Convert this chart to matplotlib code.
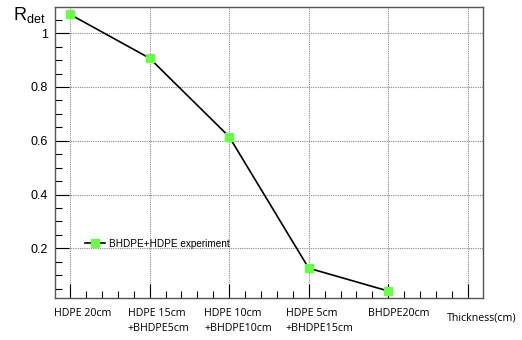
import numpy as np
import matplotlib.pyplot as plt
from matplotlib.ticker import MultipleLocator
from matplotlib.transforms import ScaledTranslation

# data
labels = ['HDPE 20cm', 'HDPE 15cm\n+BHDPE5cm', 'HDPE 10cm\n+BHDPE10cm',
          'HDPE 5cm\n+BHDPE15cm', 'BHDPE20cm']
r_det = [1.07, 0.907, 0.615, 0.126, 0.041]

x = np.arange(len(labels))

fig = plt.figure(figsize=(5.22, 3.4), dpi=100)
ax = fig.add_axes([0.1054, 0.1235, 0.8196, 0.8555])

ax.plot(x, r_det, c='black', lw=1.2, marker='s', ms=5.2,
        mfc='#66ff44', mec='#66ff44', label='BHDPE+HDPE experiment')

ax.set_xlim(-0.19, 5.19)
ax.set_ylim(0.015, 1.097)

ax.set_xticks(np.arange(6))
ax.set_xticklabels([''] * 6)
# category labels sit a little right of their ticks in the original
shift = [13, 9, 9, 11, 11]
for xi, lab, dx in zip(x, labels, shift):
    tr = ax.get_xaxis_transform() + ScaledTranslation(dx / 100, -9.5 / 100,
                                                      fig.dpi_scale_trans)
    ax.text(xi, 0, lab, transform=tr, fontsize=7.7, family='Open Sans',
            ha='center', va='top', multialignment='left', linespacing=1.55)
ax.xaxis.set_minor_locator(MultipleLocator(0.2))
ax.set_yticks([0.2, 0.4, 0.6, 0.8, 1.0])
ax.set_yticklabels(['0.2', '0.4', '0.6', '0.8', '1'], fontsize=9,
                   family='Liberation Sans')
ax.yaxis.set_minor_locator(MultipleLocator(0.05))

ax.tick_params(which='both', direction='in', top=False, right=False)
ax.tick_params(which='major', length=10, width=0.8)
ax.tick_params(which='minor', length=5, width=0.8)
ax.tick_params(axis='y', which='major', pad=5)

ax.grid(True, which='major', ls=(0, (1, 1)), lw=0.8, color='#888888')
for s in ax.spines.values():
    s.set_color('#555555')
    s.set_linewidth(1.0)

fig.text(0.99, 22 / 340, 'Thickness(cm)', fontsize=7.7,
         family='Open Sans', ha='right', va='center')
fig.text(0.025, 0.955, r'R$_{\mathregular{det}}$', fontsize=13,
         family='Liberation Sans', ha='left', va='center')

ax.legend(loc='center left', bbox_to_anchor=(0.05, 0.186), frameon=False,
          prop={'family': 'Liberation Sans', 'size': 7.2},
          handlelength=2.0, handletextpad=0.4)

fig.savefig('out.png', dpi=100)
